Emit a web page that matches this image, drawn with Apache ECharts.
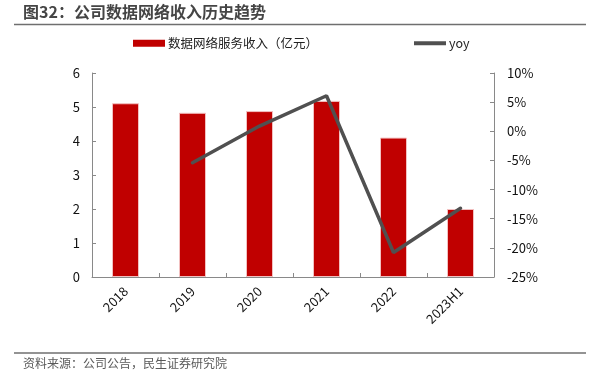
<!DOCTYPE html>
<html><head><meta charset="utf-8">
<script src="https://cdn.jsdelivr.net/npm/echarts@6/dist/echarts.min.js"></script>
<style>html,body{margin:0;padding:0;background:#fff;}#c{width:596px;height:383px;}</style>
</head><body><div id="c"></div>
<script>
var categories = ['2018','2019','2020','2021','2022','2023H1'];
var revenue = [5.11, 4.83, 4.88, 5.18, 4.10, 2.00];
var yoy = [null, -5.4, 0.9, 6.1, -20.8, -13.2];
var leftTicks = {min:0, max:6, interval:1};
var rightTicks = {min:-25, max:10, interval:5};
var titleText = '图32：公司数据网络收入历史趋势';
var sourceText = '资料来源：公司公告，民生证券研究院';
var barName = '数据网络服务收入（亿元）';
var lineName = 'yoy';

var FONT = '"Noto Sans CJK SC","Microsoft YaHei",sans-serif';
var chart = echarts.init(document.getElementById('c'), null, {renderer:'canvas'});
chart.setOption({
  animation:false,
  textStyle:{fontFamily:FONT},
  graphic:[
    {type:'text', left:23, top:4, style:{text:titleText, fontSize:16, fontWeight:'bold', fill:'#454545', fontFamily:FONT}},
    {type:'line', shape:{x1:14,y1:24.5,x2:586,y2:24.5}, style:{stroke:'#6f6f6f', lineWidth:1.5}},
    {type:'line', shape:{x1:14,y1:353,x2:586,y2:353}, style:{stroke:'#6f6f6f', lineWidth:1.5}},
    {type:'text', left:23, top:357, style:{text:sourceText, fontSize:12, fill:'#595959', fontFamily:FONT}}
  ],
  legend:{
    top:37, left:133, padding:0, itemGap:96, itemWidth:32, itemHeight:7,
    textStyle:{fontSize:12.5, color:'#222', fontFamily:FONT, padding:[0,0,0,-2]},
    itemStyle:{borderWidth:0},
    data:[
      {name:barName, icon:'rect'},
      {name:lineName, icon:'path://M0,0 L32,0 L32,4 L0,4 Z', itemStyle:{color:'#505050', borderWidth:0}}
    ]
  },
  grid:{left:92, right:102, top:73, bottom:106},
  xAxis:{
    type:'category', data:categories,
    axisLine:{lineStyle:{color:'#898989', width:1}},
    axisTick:{show:true, inside:true, length:4, alignWithLabel:false, lineStyle:{color:'#898989'}},
    axisLabel:{rotate:45, margin:12, fontSize:13, color:'#111', fontFamily:FONT}
  },
  yAxis:[
    {type:'value', min:leftTicks.min, max:leftTicks.max, interval:leftTicks.interval,
     splitLine:{show:false},
     axisLine:{show:true, lineStyle:{color:'#898989'}},
     axisTick:{show:true, inside:true, length:4, lineStyle:{color:'#898989'}},
     axisLabel:{fontSize:13, color:'#111', margin:12, fontFamily:FONT}},
    {type:'value', min:rightTicks.min, max:rightTicks.max, interval:rightTicks.interval,
     splitLine:{show:false},
     axisLine:{show:true, lineStyle:{color:'#898989'}},
     axisTick:{show:true, inside:true, length:4, lineStyle:{color:'#898989'}},
     axisLabel:{fontSize:13, color:'#111', margin:13, fontFamily:FONT, formatter:function(v){return v+'%';}}}
  ],
  series:[
    {name:barName, type:'bar', data:revenue, barWidth:27, yAxisIndex:0,
     itemStyle:{color:'#C00000', borderColor:'#f2c0c0', borderWidth:1}},
    {name:lineName, type:'line', data:yoy, yAxisIndex:1, showSymbol:false, symbol:'none',
     lineStyle:{color:'#505050', width:3.5, cap:'round'}, itemStyle:{color:'#505050'}}
  ]
});
</script></body></html>
